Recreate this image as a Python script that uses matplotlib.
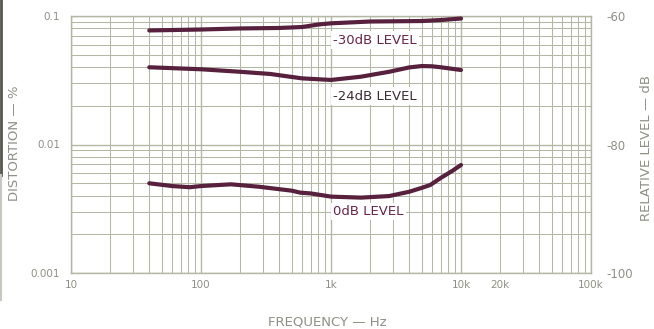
import matplotlib
matplotlib.use("Agg")
import matplotlib.pyplot as plt
from matplotlib.lines import Line2D
from matplotlib.ticker import FixedLocator, NullFormatter, NullLocator

# Distortion vs frequency at three drive levels
freq_0db = [40, 60, 82, 100, 170, 280, 500, 580, 700, 1000, 1700, 2800, 4000, 5000, 5800, 7000, 8500, 10000]
dist_0db = [0.00499, 0.00475, 0.00465, 0.00475, 0.00490, 0.00469, 0.00437, 0.00422, 0.00416,
            0.00393, 0.00386, 0.00397, 0.00429, 0.00460, 0.00484, 0.00550, 0.00620, 0.00693]

freq_24db = [40, 100, 200, 340, 600, 1000, 1700, 2800, 4000, 5000, 6000, 7000, 10000]
dist_24db = [0.0399, 0.0385, 0.0368, 0.0354, 0.0327, 0.0318, 0.0337, 0.0368, 0.0398, 0.0408,
             0.0406, 0.0399, 0.0380]

freq_30db = [40, 100, 200, 400, 600, 800, 1000, 2000, 5000, 7000, 10000]
dist_30db = [0.0772, 0.0785, 0.0800, 0.0807, 0.0821, 0.0859, 0.0877, 0.0906, 0.0914, 0.0930, 0.0956]

x_ticks = [10, 100, 1000, 10000, 20000, 100000]
x_tick_labels = ["10", "100", "1k", "10k", "20k", "100k"]
y_ticks = [0.001, 0.01, 0.1]
y_tick_labels = ["0.001", "0.01", "0.1"]
level_ticks = [-100, -80, -60]
level_tick_labels = ["-100", "-80", "-60"]

curve_labels = ["0dB LEVEL", "-24dB LEVEL", "-30dB LEVEL"]

GRID = "#b4b7a4"
TEXT = "#8e8f85"
CURVE = "#57203c"
LABEL = "#6a2448"

fig = plt.figure(figsize=(6.54, 3.29), dpi=100)
fig.patch.set_facecolor("white")
ax = fig.add_axes([71 / 654, 56 / 329, 520 / 654, 257 / 329])
ax.set_xscale("log")
ax.set_yscale("log")
ax.set_xlim(10, 100000)
ax.set_ylim(0.001, 0.1)

# log-paper grid
minor_x = [m * 10 ** e for e in range(1, 5) for m in range(2, 10)]
minor_y = [m * 10 ** e for e in (-3, -2) for m in range(2, 10)]
for xv in minor_x:
    ax.axvline(xv, color=GRID, lw=0.75, zorder=1)
for xv in [10, 100, 1000, 10000, 100000]:
    ax.axvline(xv, color=GRID, lw=1.0, zorder=1)
for yv in minor_y:
    ax.axhline(yv, color=GRID, lw=0.75, zorder=1)
for yv in y_ticks:
    ax.axhline(yv, color=GRID, lw=1.0, zorder=1)
for s in ax.spines.values():
    s.set_color(GRID)
    s.set_linewidth(1.0)

for f, d in [(freq_30db, dist_30db), (freq_24db, dist_24db), (freq_0db, dist_0db)]:
    ax.plot(f, d, color=CURVE, lw=3.0, solid_capstyle="round", solid_joinstyle="round", zorder=3)

box = dict(facecolor="white", edgecolor="none", pad=1.5)
ax.text(1040, 0.0650, curve_labels[2], color=LABEL, fontsize=9.5, ha="left", va="center", bbox=box, zorder=4)
ax.text(1040, 0.0238, curve_labels[1], color="#3e2a35", fontsize=9.5, ha="left", va="center", bbox=box, zorder=4)
ax.text(1040, 0.00300, curve_labels[0], color=LABEL, fontsize=9.5, ha="left", va="center", bbox=box, zorder=4)

ax.xaxis.set_major_locator(FixedLocator(x_ticks))
ax.set_xticklabels(x_tick_labels)
ax.xaxis.set_minor_locator(NullLocator())
ax.xaxis.set_minor_formatter(NullFormatter())
ax.yaxis.set_major_locator(FixedLocator(y_ticks))
ax.set_yticklabels(y_tick_labels)
ax.yaxis.set_minor_locator(NullLocator())
ax.yaxis.set_minor_formatter(NullFormatter())
ax.tick_params(axis="x", length=0, pad=5, labelsize=7.5, labelcolor=TEXT)
ax.tick_params(axis="y", length=0, pad=8, labelsize=7.5, labelcolor=TEXT)

ax2 = ax.twinx()
ax2.set_ylim(-100, -60)
ax2.yaxis.set_major_locator(FixedLocator(level_ticks))
ax2.set_yticklabels(level_tick_labels)
ax2.tick_params(axis="y", length=0, pad=11, labelsize=8.5, labelcolor=TEXT)
for s in ax2.spines.values():
    s.set_visible(False)

fig.text(15 / 654, 1 - 143 / 329, "DISTORTION — %", rotation=90, color=TEXT, fontsize=9.5,
         ha="center", va="center")
fig.text(327 / 654, 1 - 322 / 329, "FREQUENCY — Hz", color=TEXT, fontsize=9.5,
         ha="center", va="center")
fig.text(646 / 654, 1 - 148 / 329, "RELATIVE LEVEL — dB", rotation=90, color=TEXT, fontsize=9.5,
         ha="center", va="center")

# dark strip along the left edge of the sheet
fig.add_artist(Line2D([1 / 654, 1 / 654], [1, 1 - 175 / 329], transform=fig.transFigure,
                      color="#55554d", lw=2))
fig.add_artist(Line2D([1 / 654, 1 / 654], [1 - 175 / 329, 1 - 300 / 329], transform=fig.transFigure,
                      color="#c8c8c0", lw=1.5))

fig.savefig("out.png", dpi=100, facecolor="white")
